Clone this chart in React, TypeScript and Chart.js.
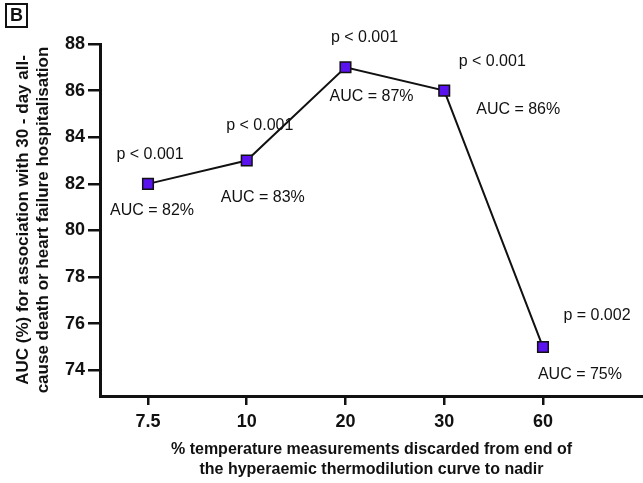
import React, { useEffect, useRef } from "react";
import { Chart, registerables } from "chart.js";

Chart.register(...registerables);

const categories = ["7.5", "10", "20", "30", "60"];
const aucValues = [82, 83, 87, 86, 75];
const pLabels = ["p < 0.001", "p < 0.001", "p < 0.001", "p < 0.001", "p = 0.002"];
const aucLabels = ["AUC = 82%", "AUC = 83%", "AUC = 87%", "AUC = 86%", "AUC = 75%"];
const yTicks = [74, 76, 78, 80, 82, 84, 86, 88];

// label placement offsets (pixels, relative to each point)
const pOffsets = [[2, -29], [13, -35], [19, -30], [48, -29], [54, -31]];
const aucOffsets = [[4, 27], [16, 37], [26, 29], [74, 19], [37, 28]];

const FONT = "'Liberation Sans', Arial, sans-serif";

const annotate = {
  id: "annotate",
  afterDatasetsDraw(chart: any) {
    const ctx = chart.ctx;
    const meta = chart.getDatasetMeta(0);
    ctx.save();
    ctx.fillStyle = "#111";
    ctx.font = `16px ${FONT}`;
    ctx.textAlign = "center";
    ctx.textBaseline = "middle";
    meta.data.forEach((pt: any, i: number) => {
      ctx.fillText(pLabels[i], pt.x + pOffsets[i][0], pt.y + pOffsets[i][1]);
      ctx.fillText(aucLabels[i], pt.x + aucOffsets[i][0], pt.y + aucOffsets[i][1]);
    });
    // panel letter
    ctx.lineWidth = 2;
    ctx.strokeStyle = "#111";
    ctx.strokeRect(6, 4, 21, 23);
    ctx.font = `bold 18px ${FONT}`;
    ctx.fillText("B", 16.5, 16);
    ctx.restore();
  },
};

export default function App() {
  const ref = useRef<HTMLCanvasElement>(null);
  useEffect(() => {
    document.body.style.margin = "0";
    const chart = new Chart(ref.current!, {
      type: "line",
      data: {
        datasets: [
          {
            data: aucValues.map((v, i) => ({ x: i, y: v })),
            borderColor: "#111",
            borderWidth: 2,
            pointStyle: "rect",
            pointRadius: 7.5,
            pointBackgroundColor: "#5a12ee",
            pointBorderColor: "#111",
            pointBorderWidth: 1.5,
            tension: 0,
          },
        ],
      },
      options: {
        animation: false,
        responsive: false,
        layout: { autoPadding: false, padding: { top: 44, right: 0, left: 0, bottom: 0 } },
        plugins: { legend: { display: false }, tooltip: { enabled: false } },
        scales: {
          x: {
            type: "linear",
            min: -0.486,
            max: 5.013,
            afterBuildTicks(scale: any) {
              scale.ticks = categories.map((_, i) => ({ value: i }));
            },
            grid: {
              display: true,
              drawOnChartArea: false,
              drawTicks: true,
              tickLength: 9,
              color: "#111",
              lineWidth: 2.5,
            },
            border: { display: true, color: "#111", width: 3 },
            ticks: {
              color: "#111",
              font: { family: FONT, size: 18, weight: "bold" },
              padding: 6,
              autoSkip: false,
              maxRotation: 0,
              callback: (v: any) => categories[v as number],
            },
            title: {
              display: true,
              text: [
                "% temperature measurements discarded from end of",
                "the hyperaemic thermodilution curve to nadir",
              ],
              color: "#111",
              font: { family: FONT, size: 16, weight: "bold", lineHeight: 1.25 },
              padding: { top: 0, bottom: 3 },
            },
            afterFit(scale: any) {
              scale.height = 87;
              scale.paddingLeft = 0;
              scale.paddingRight = 0;
            },
          },
          y: {
            type: "linear",
            min: 72.9,
            max: 88,
            afterBuildTicks(scale: any) {
              scale.ticks = yTicks.map((v) => ({ value: v }));
            },
            grid: {
              display: true,
              drawOnChartArea: false,
              drawTicks: true,
              tickLength: 12,
              color: "#111",
              lineWidth: 2.5,
            },
            border: { display: true, color: "#111", width: 3 },
            ticks: { color: "#111", font: { family: FONT, size: 18, weight: "bold" }, padding: 3 },
            title: {
              display: true,
              text: [
                "AUC (%) for association with 30 - day all-",
                "cause death or heart failure hospitalisation",
              ],
              color: "#111",
              font: { family: FONT, size: 17, weight: "bold", lineHeight: 1.18 },
              padding: { top: 13, bottom: 0 },
            },
            afterFit(scale: any) {
              scale.width = 100;
            },
          },
        },
      },
      plugins: [annotate],
    });
    return () => chart.destroy();
  }, []);
  return (
    <div style={{ width: 643, height: 483, background: "#fff" }}>
      <canvas ref={ref} width={643} height={483} style={{ display: "block" }} />
    </div>
  );
}
